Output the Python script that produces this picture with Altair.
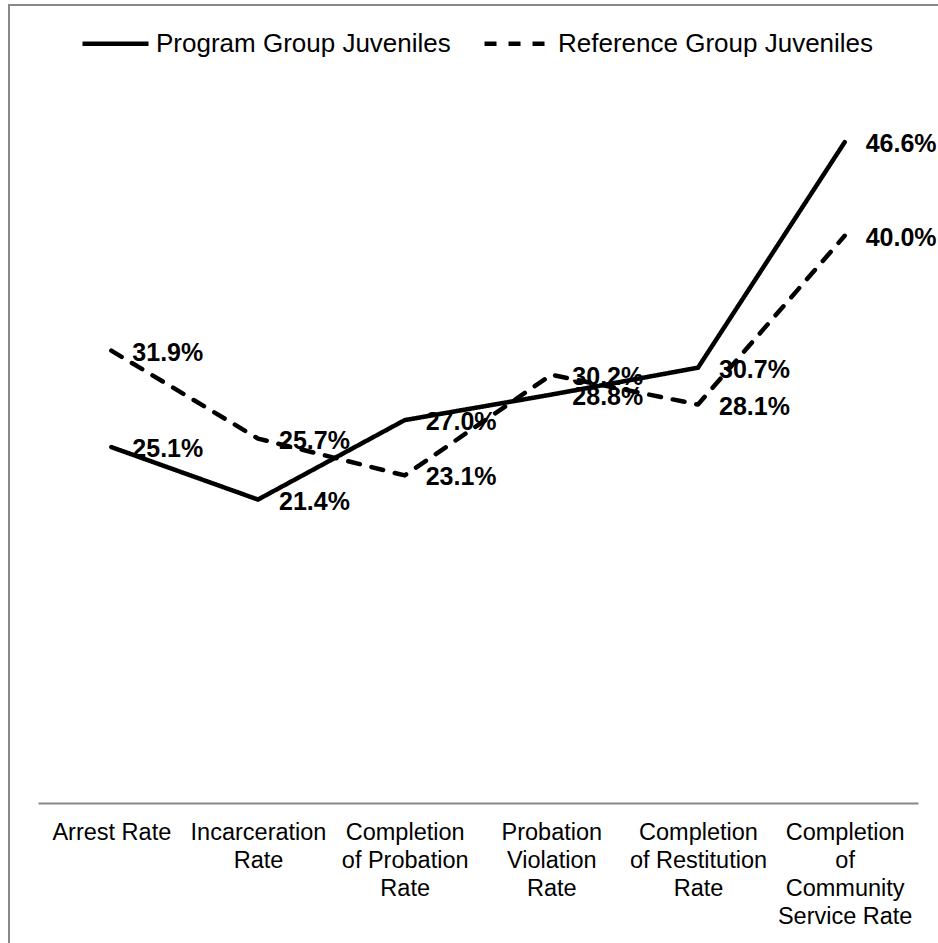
import altair as alt
import pandas as pd

# Outcome measures (x axis), with manual line breaks for the axis labels
categories = [
    "Arrest Rate",
    "Incarceration\nRate",
    "Completion\nof Probation\nRate",
    "Probation\nViolation\nRate",
    "Completion\nof Restitution\nRate",
    "Completion\nof\nCommunity\nService Rate",
]
series_names = ["Program Group Juveniles", "Reference Group Juveniles"]
program_values = [25.1, 21.4, 27.0, 28.8, 30.7, 46.6]
reference_values = [31.9, 25.7, 23.1, 30.2, 28.1, 40.0]

rows = []
for name, values in zip(series_names, [program_values, reference_values]):
    for cat, v in zip(categories, values):
        rows.append({"measure": cat, "group": name, "rate": v})
df = pd.DataFrame(rows)

FONT = "Liberation Sans"

x_enc = alt.X(
    "measure:N",
    sort=categories,
    scale=alt.Scale(type="point", padding=0.5),
    axis=alt.Axis(
        title=None,
        ticks=False,
        grid=False,
        domainColor="#888888",
        domainWidth=2,
        labelAngle=0,
        labelFont=FONT,
        labelFontSize=23.5,
        labelColor="black",
        labelLineHeight=28,
        labelPadding=17,
        labelLimit=0,
        labelExpr="split(datum.value, '\\n')",
    ),
)
y_enc = alt.Y("rate:Q", scale=alt.Scale(domain=[0, 50], nice=False), axis=None)

lines = alt.Chart(df).mark_line(
    color="black", strokeWidth=4.5, strokeJoin="round", strokeCap="round"
).encode(
    x=x_enc,
    y=y_enc,
    strokeDash=alt.StrokeDash(
        "group:N",
        scale=alt.Scale(domain=series_names, range=[[1, 0], [12, 12]]),
        legend=alt.Legend(
            title=None,
            orient="none",
            direction="horizontal",
            legendX=42,
            legendY=-86,
            padding=0,
            symbolType="stroke",
            symbolSize=4356,
            symbolStrokeWidth=4.5,
            symbolStrokeColor="black",
            labelFont=FONT,
            labelFontSize=26,
            labelColor="black",
            labelOffset=5,
            columnPadding=24,
            labelLimit=0,
        ),
    ),
)

labels = alt.Chart(df).transform_calculate(
    label="format(datum.rate, '.1f') + '%'"
).mark_text(
    align="left", baseline="middle", dx=21, dy=2, font=FONT, fontSize=25,
    fontWeight="bold", color="black",
).encode(x=x_enc, y=y_enc, text="label:N")

# Thin gray frame around the whole figure
frame = alt.Chart(alt.Data(values=[{}])).mark_rect(
    fillOpacity=0, stroke="#888888", strokeWidth=2
).encode(
    x=alt.value(-29), x2=alt.value(915), y=alt.value(-89), y2=alt.value(860)
)

chart = alt.layer(frame, lines, labels).properties(
    width=880,
    height=709,
    autosize=alt.AutoSizeParams(type="none"),
    padding={"left": 38, "top": 94, "right": 20, "bottom": 140},
    background="white",
).configure(font=FONT).configure_view(stroke="transparent", strokeWidth=0)

chart.save("out.html", embed_options={"renderer": "svg", "actions": False})
